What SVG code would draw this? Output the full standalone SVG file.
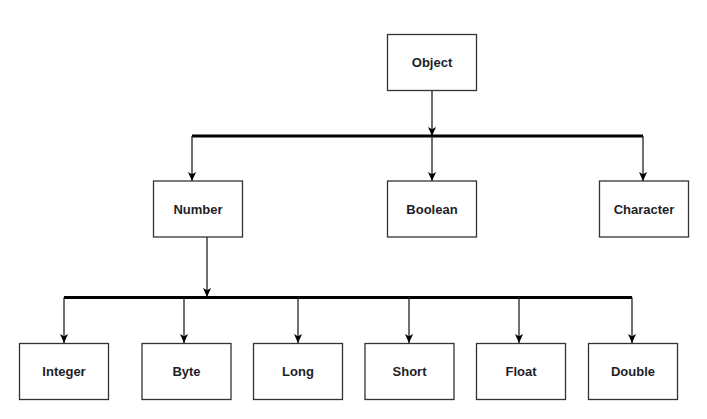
<svg xmlns="http://www.w3.org/2000/svg" width="707" height="419" viewBox="0 0 707 419">
<defs>
<style>
.box{fill:#fff;stroke:#333;stroke-width:1.3}
.lbl{font-family:"Liberation Sans",Arial,sans-serif;font-size:13px;font-weight:bold;fill:#1e1e28;text-anchor:middle}
.ln{stroke:#222;stroke-width:1.3;fill:none}
.bus{stroke:#000;stroke-width:3;fill:none}
</style>
<marker id="ah" viewBox="0 0 10 10" refX="10" refY="5" markerWidth="9" markerHeight="9" markerUnits="userSpaceOnUse" orient="auto">
<path d="M10,5 L0,0.5 L2.5,5 L0,9.5 Z" fill="#000"/>
</marker>
</defs>
<rect width="707" height="419" fill="#fff"/>
<g id="connectors">
<line class="ln" x1="432" y1="91" x2="432" y2="136" marker-end="url(#ah)"/>
<line class="bus" x1="192" y1="136" x2="643" y2="136"/>
<line class="ln" x1="192" y1="136" x2="192" y2="181" marker-end="url(#ah)"/>
<line class="ln" x1="432" y1="136" x2="432" y2="181" marker-end="url(#ah)"/>
<line class="ln" x1="643" y1="136" x2="643" y2="181" marker-end="url(#ah)"/>
<line class="ln" x1="207" y1="237" x2="207" y2="297" marker-end="url(#ah)"/>
<line class="bus" x1="64" y1="297.5" x2="632" y2="297.5"/>
<line class="ln" x1="64" y1="297.5" x2="64" y2="343" marker-end="url(#ah)"/>
<line class="ln" x1="184" y1="297.5" x2="184" y2="343" marker-end="url(#ah)"/>
<line class="ln" x1="298" y1="297.5" x2="298" y2="343" marker-end="url(#ah)"/>
<line class="ln" x1="409" y1="297.5" x2="409" y2="343" marker-end="url(#ah)"/>
<line class="ln" x1="519" y1="297.5" x2="519" y2="343" marker-end="url(#ah)"/>
<line class="ln" x1="632" y1="297.5" x2="632" y2="343" marker-end="url(#ah)"/>
</g>
<g id="object"><rect class="box" x="387.5" y="34.5" width="89" height="56"/><text class="lbl" x="432" y="67">Object</text></g>
<g id="number"><rect class="box" x="153.5" y="181" width="89" height="56"/><text class="lbl" x="198" y="213.5">Number</text></g>
<g id="boolean"><rect class="box" x="387.5" y="181" width="89" height="56"/><text class="lbl" x="432" y="213.5">Boolean</text></g>
<g id="character"><rect class="box" x="599.5" y="181" width="89" height="56"/><text class="lbl" x="644" y="213.5">Character</text></g>
<g id="integer"><rect class="box" x="19.5" y="343.5" width="89" height="56"/><text class="lbl" x="64" y="376">Integer</text></g>
<g id="byte"><rect class="box" x="142" y="343.5" width="89" height="56"/><text class="lbl" x="186.5" y="376">Byte</text></g>
<g id="long"><rect class="box" x="253.5" y="343.5" width="89" height="56"/><text class="lbl" x="298" y="376">Long</text></g>
<g id="short"><rect class="box" x="365" y="343.5" width="89" height="56"/><text class="lbl" x="409.5" y="376">Short</text></g>
<g id="float"><rect class="box" x="476.5" y="343.5" width="89" height="56"/><text class="lbl" x="521" y="376">Float</text></g>
<g id="double"><rect class="box" x="588.5" y="343.5" width="89" height="56"/><text class="lbl" x="633" y="376">Double</text></g>
</svg>
